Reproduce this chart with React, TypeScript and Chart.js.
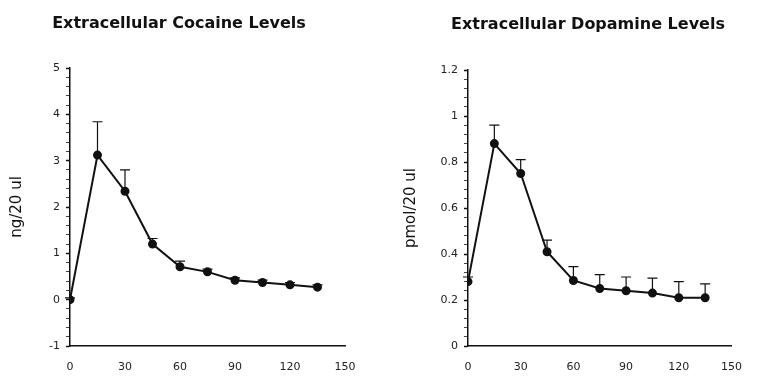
import React, { useEffect, useRef } from "react";
import { Chart, registerables } from "chart.js";

Chart.register(...registerables);

// ---- data ----
const timePoints = [0, 15, 30, 45, 60, 75, 90, 105, 120, 135];
const cocaineLevels = [0.0, 3.12, 2.34, 1.2, 0.71, 0.6, 0.42, 0.37, 0.32, 0.27];
const cocaineErrors = [0.04, 0.72, 0.46, 0.12, 0.12, 0.06, 0.05, 0.05, 0.05, 0.05];
const dopamineLevels = [0.28, 0.88, 0.75, 0.41, 0.285, 0.25, 0.24, 0.23, 0.21, 0.21];
const dopamineErrors = [0.02, 0.08, 0.06, 0.05, 0.06, 0.06, 0.06, 0.065, 0.07, 0.06];
const xTickValues = [0, 30, 60, 90, 120, 150];
const cocaineYTicks = [-1, 0, 1, 2, 3, 4, 5];
const dopamineYTicks = [0, 0.2, 0.4, 0.6, 0.8, 1, 1.2];
const minorDivisions = 5;
const cocaineTitle = "Extracellular Cocaine Levels";
const dopamineTitle = "Extracellular Dopamine Levels";
const cocaineUnit = "ng/20 ul";
const dopamineUnit = "pmol/20 ul";

const FONT = "'DejaVu Sans', 'Liberation Sans', Arial, sans-serif";
const INK = "#111";

const errorBarPlugin = {
  id: "errorBars",
  afterDatasetsDraw(chart: any, _args: any, opts: any) {
    const { ctx } = chart;
    const x = chart.scales.x;
    const y = chart.scales.y;
    const pts = chart.data.datasets[0].data as { x: number; y: number }[];
    const errs: number[] = opts.errors || [];
    ctx.save();
    ctx.strokeStyle = INK;
    ctx.lineWidth = 1.2;
    pts.forEach((p, i) => {
      const e = errs[i] || 0;
      const px = x.getPixelForValue(p.x);
      const py = y.getPixelForValue(p.y);
      const pt = y.getPixelForValue(p.y + e);
      ctx.beginPath();
      ctx.moveTo(px, py);
      ctx.lineTo(px, pt);
      ctx.moveTo(px - opts.capWidth / 2, pt);
      ctx.lineTo(px + opts.capWidth / 2, pt);
      ctx.stroke();
    });
    ctx.restore();
  },
};

const panelTitlePlugin = {
  id: "panelTitle",
  afterDraw(chart: any, _args: any, opts: any) {
    const { ctx } = chart;
    ctx.save();
    ctx.font = opts.font;
    ctx.fillStyle = INK;
    ctx.textAlign = "center";
    ctx.textBaseline = "middle";
    ctx.fillText(opts.text, opts.x, opts.y);
    ctx.restore();
  },
};

function buildTicks(majors: number[]) {
  const out: number[] = [];
  for (let i = 0; i < majors.length; i++) {
    out.push(majors[i]);
    if (i < majors.length - 1) {
      const step = (majors[i + 1] - majors[i]) / minorDivisions;
      for (let k = 1; k < minorDivisions; k++) {
        out.push(Math.round((majors[i] + step * k) * 10000) / 10000);
      }
    }
  }
  return out;
}

type PanelProps = {
  left: number;
  width: number;
  values: number[];
  errors: number[];
  majors: number[];
  title: string;
  titleX: number;
  titleY: number;
  unit: string;
  unitPad: number;
  axisWidth: number;
  padRight: number;
  padTop: number;
};

function Panel(p: PanelProps) {
  const ref = useRef<HTMLCanvasElement | null>(null);
  useEffect(() => {
    if (!ref.current) return;
    const majors = p.majors;
    const isMajor = (v: number) => majors.some((m) => Math.abs(m - v) < 1e-6);
    const chart = new Chart(ref.current, {
      type: "line",
      data: {
        datasets: [
          {
            data: timePoints.map((t, i) => ({ x: t, y: p.values[i] })),
            borderColor: INK,
            borderWidth: 2,
            backgroundColor: INK,
            pointBackgroundColor: INK,
            pointBorderColor: INK,
            pointRadius: 3.5,
            tension: 0,
            fill: false,
          },
        ],
      },
      options: {
        responsive: false,
        animation: false,
        layout: { padding: { left: 0, right: p.padRight, top: p.padTop, bottom: 0 } },
        plugins: {
          legend: { display: false },
          tooltip: { enabled: false },
          title: { display: false },
          errorBars: { errors: p.errors, capWidth: 10 },
          panelTitle: { text: p.title, x: p.titleX, y: p.titleY, font: `bold 16px ${FONT}` },
        } as any,
        scales: {
          x: {
            type: "linear",
            min: 0,
            max: 150,
            afterBuildTicks: (s: any) => {
              s.ticks = xTickValues.map((v) => ({ value: v }));
            },
            afterFit: (s: any) => {
              s.height = 34;
            },
            grid: { drawOnChartArea: false, drawTicks: false },
            border: { color: INK, width: 1.5 },
            ticks: {
              padding: 15,
              autoSkip: false,
              maxRotation: 0,
              color: "#222",
              font: { family: FONT, size: 11 },
            },
          },
          y: {
            type: "linear",
            min: majors[0],
            max: majors[majors.length - 1],
            afterBuildTicks: (s: any) => {
              s.ticks = buildTicks(majors).map((v) => ({ value: v }));
            },
            afterFit: (s: any) => {
              s.width = p.axisWidth;
            },
            title: {
              display: true,
              text: p.unit,
              color: INK,
              font: { family: FONT, size: 15 },
              padding: { top: p.unitPad, bottom: 0 },
            },
            grid: {
              drawOnChartArea: false,
              tickLength: 4,
              tickColor: INK,
              tickWidth: (ctx: any) => (ctx.tick && isMajor(ctx.tick.value) ? 1.5 : 0.8),
            },
            border: { color: INK, width: 1.5 },
            ticks: {
              padding: 6,
              autoSkip: false,
              color: "#222",
              font: { family: FONT, size: 11 },
              callback: (v: any) => (isMajor(Number(v)) ? String(Math.round(Number(v) * 10) / 10) : ""),
            },
          },
        },
      } as any,
      plugins: [errorBarPlugin, panelTitlePlugin],
    });
    return () => chart.destroy();
  }, []);
  return (
    <canvas
      ref={ref}
      width={p.width}
      height={380}
      style={{ position: "absolute", left: p.left, top: 0, width: p.width, height: 380 }}
    />
  );
}

export default function App() {
  return (
    <div style={{ position: "fixed", left: 0, top: 0, width: 757, height: 380, background: "#fff" }}>
      <Panel
        left={0}
        width={378}
        values={cocaineLevels}
        errors={cocaineErrors}
        majors={cocaineYTicks}
        title={cocaineTitle}
        titleX={179}
        titleY={24}
        unit={cocaineUnit}
        unitPad={8}
        axisWidth={70}
        padRight={33}
        padTop={68}
      />
      <Panel
        left={378}
        width={379}
        values={dopamineLevels}
        errors={dopamineErrors}
        majors={dopamineYTicks}
        title={dopamineTitle}
        titleX={210}
        titleY={25}
        unit={dopamineUnit}
        unitPad={24}
        axisWidth={90}
        padRight={12}
        padTop={70}
      />
    </div>
  );
}
